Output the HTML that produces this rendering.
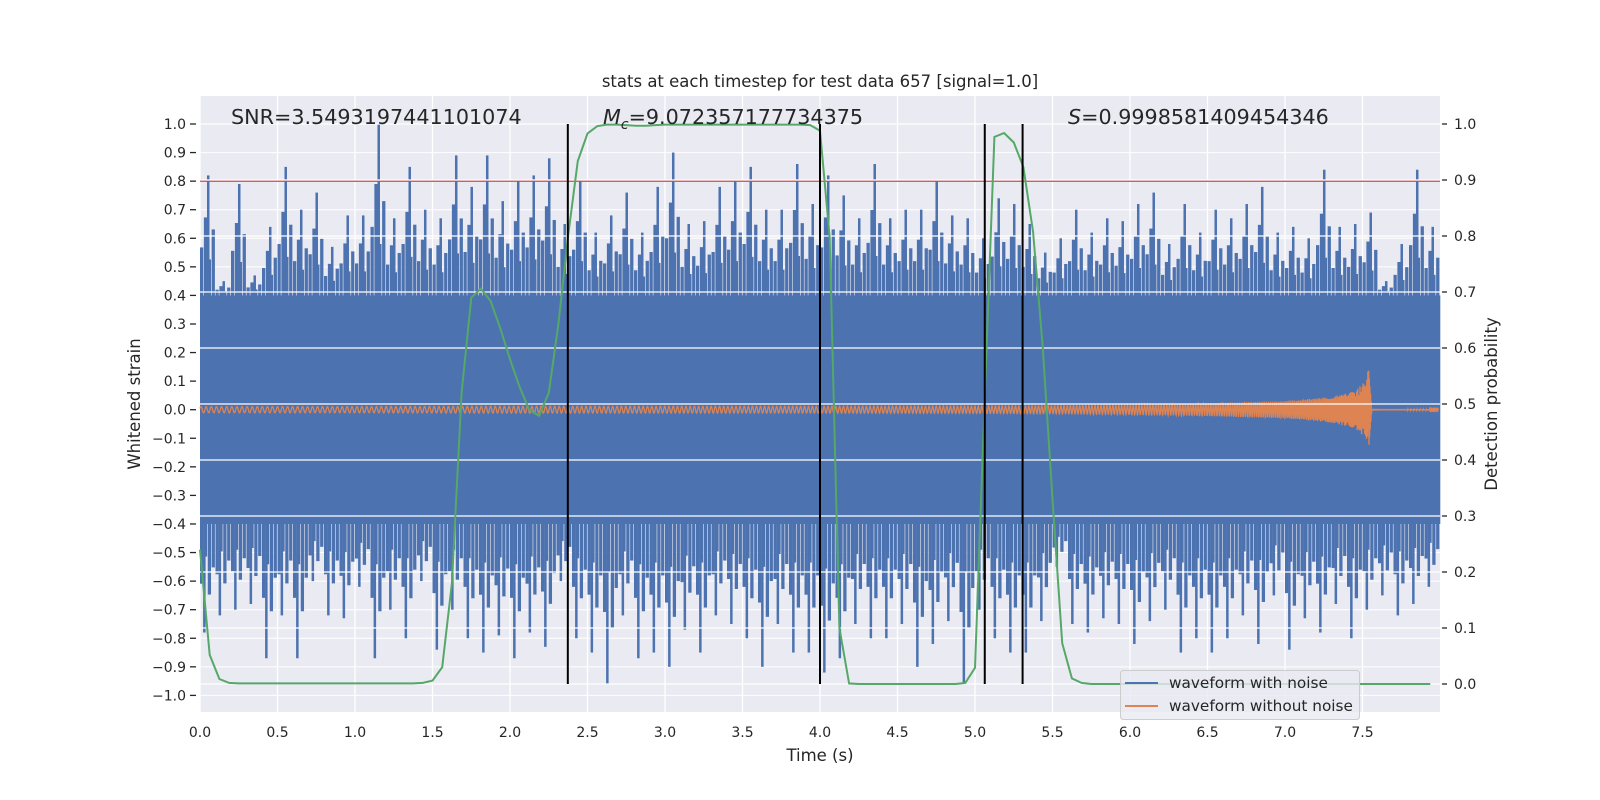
<!DOCTYPE html>
<html><head><meta charset="utf-8">
<style>
html,body{margin:0;padding:0;background:#fff;}
svg{display:block;font-family:"DejaVu Sans","Liberation Sans",sans-serif;}
</style></head>
<body>
<svg id="chart" width="1600" height="800" viewBox="0 0 1600 800" xmlns="http://www.w3.org/2000/svg">
<rect x="0" y="0" width="1600" height="800" fill="#ffffff"/>
<rect x="200" y="96" width="1240" height="616" fill="#EAEAF2"/>
<g id="gridLeft"></g>
<g id="blue"></g>
<g id="orange"></g>
<g id="red"></g>
<g id="gridRight"></g>
<g id="green"></g>
<g id="vlines"></g>
<g id="axes"></g>
<text x="820" y="87" text-anchor="middle" font-size="16.5" fill="#262626">stats at each timestep for test data 657 [signal=1.0]</text>
<text x="231" y="124" font-size="20.7" fill="#262626">SNR=3.5493197441101074</text>
<text x="603" y="124" font-size="20.7" fill="#262626"><tspan font-style="italic">M</tspan><tspan font-style="italic" font-size="14" dy="5">c</tspan><tspan dy="-5">=9.072357177734375</tspan></text>
<text x="1068" y="124" font-size="20.7" fill="#262626"><tspan font-style="italic">S</tspan>=0.9998581409454346</text>
<text x="820" y="761" text-anchor="middle" font-size="16.5" fill="#262626">Time (s)</text>
<text transform="translate(140,404) rotate(-90)" text-anchor="middle" font-size="16.5" fill="#262626">Whitened strain</text>
<text transform="translate(1497,404) rotate(-90)" text-anchor="middle" font-size="16.5" fill="#262626">Detection probability</text>
<g>
<rect x="1120.5" y="670.5" width="239" height="49" rx="3" fill="#EAEAF2" fill-opacity="0.8" stroke="#cccccc"/>
<line x1="1125" y1="683" x2="1158" y2="683" stroke="#4C72B0" stroke-width="2"/>
<text x="1169" y="688" font-size="15.3" fill="#262626">waveform with noise</text>
<line x1="1125" y1="706" x2="1158" y2="706" stroke="#DD8452" stroke-width="2"/>
<text x="1169" y="711" font-size="15.3" fill="#262626">waveform without noise</text>
</g>
</svg>
<script>
const NS="http://www.w3.org/2000/svg";
// ---- data ----
const binWidth=0.1;
const noiseUpper=[0.82,0.45,0.79,0.47,0.64,0.85,0.70,0.76,0.57,0.68,0.68,1.0,0.67,0.85,0.70,0.67,0.89,0.78,0.89,0.73,0.80,0.82,0.88,0.65,0.80,0.62,0.68,0.76,0.62,0.78,0.90,0.65,0.66,0.78,0.80,0.85,0.70,0.70,0.86,0.72,0.82,0.75,0.67,0.86,0.67,0.70,0.70,0.80,0.68,0.67,0.60,0.74,0.72,0.65,0.55,0.60,0.70,0.62,0.67,0.66,0.72,0.76,0.58,0.72,0.62,0.70,0.67,0.72,0.78,0.62,0.64,0.60,0.84,0.64,0.65,0.69,0.45,0.58,0.84,0.64];
const noiseLower=[-0.78,-0.72,-0.70,-0.68,-0.87,-0.72,-0.87,-0.60,-0.72,-0.73,-0.62,-0.87,-0.70,-0.80,-0.60,-0.84,-0.70,-0.80,-0.85,-0.79,-0.87,-0.78,-0.83,-0.60,-0.80,-0.85,-0.96,-0.72,-0.87,-0.85,-0.90,-0.77,-0.85,-0.72,-0.75,-0.80,-0.90,-0.75,-0.85,-0.85,-0.92,-0.87,-0.75,-0.80,-0.80,-0.75,-0.90,-0.82,-0.74,-0.96,-0.70,-0.80,-0.85,-0.85,-0.74,-0.55,-0.75,-0.78,-0.73,-0.75,-0.82,-0.74,-0.70,-0.85,-0.80,-0.85,-0.80,-0.72,-0.82,-0.65,-0.84,-0.73,-0.78,-0.68,-0.80,-0.70,-0.65,-0.72,-0.68,-0.62];
const coreUpper=0.40, coreLower=-0.40;
const chirpTimes=[0,1,2,3,4,5,5.5,6,6.5,7,7.3,7.45,7.52,7.54,7.56,7.99];
const chirpAmp=[0.011,0.011,0.012,0.012,0.012,0.013,0.014,0.017,0.022,0.03,0.045,0.065,0.10,0.15,0.003,0.002];
const probStep=0.0625;
const probValues=[
0.24,0.052,0.009,0.002,
0.001,0.001,0.001,0.001,0.001,0.001,0.001,0.001,0.001,0.001,0.001,0.001,0.001,0.001,0.001,0.001,0.001,0.001,0.001,
0.002,0.006,0.03,0.18,0.52,0.69,0.706,0.684,0.635,0.58,0.53,0.489,0.479,0.52,0.643,0.80,0.934,0.983,0.996,0.999,
0.999,0.998,0.997,0.997,0.998,0.999,0.999,0.999,0.999,0.999,0.999,0.999,0.999,0.999,0.999,0.999,0.999,0.999,0.999,0.999,
0.998,0.988,0.797,0.10,0.001,
0,0,0,0,0,0,0,0,0,0,0,
0.002,0.029,0.51,0.977,0.984,0.967,0.923,0.807,0.6,0.33,0.073,0.01,0.002,
0,0,0,0,0,0,0,0,0,0,0,0,0,0,0,0,0,0,0,0,0,0,0,0,0,0,0,0,0,0,0,0,0,0,0,0];
const thresholdValue=0.8;
const eventTimes=[2.373,4.0,5.063,5.307];
const xTicks=[0,0.5,1,1.5,2,2.5,3,3.5,4,4.5,5,5.5,6,6.5,7,7.5];
const yTicksLeft=[1.0,0.9,0.8,0.7,0.6,0.5,0.4,0.3,0.2,0.1,0.0,-0.1,-0.2,-0.3,-0.4,-0.5,-0.6,-0.7,-0.8,-0.9,-1.0];
const yTicksRight=[0.0,0.1,0.2,0.3,0.4,0.5,0.6,0.7,0.8,0.9,1.0];
// ---- scales ----
const X=t=>200+t*155;
const YL=v=>96+(1.098-v)*285.7;
const YR=p=>684-560*p;
function mk(tag,attrs,parent){const e=document.createElementNS(NS,tag);for(const k in attrs)e.setAttribute(k,attrs[k]);parent.appendChild(e);return e;}
const gL=document.getElementById('gridLeft');
yTicksLeft.forEach(v=>{const l=mk('line',{x1:200,x2:1440,y1:YL(v),y2:YL(v),stroke:'#ffffff','stroke-width':1},gL);

});
xTicks.forEach(t=>{const l=mk('line',{x1:X(t),x2:X(t),y1:96,y2:712,stroke:'#ffffff','stroke-width':1.3},gL);

});
// blue noise
const gB=document.getElementById('blue');
const bw=155*binWidth;
const fracs=[0.4,0.65,0.3,0.55];
noiseUpper.forEach((u,i)=>{
 const lo=noiseLower[i];const x0=X(i*binWidth);
 const r=mk('rect',{x:x0,y:YL(coreUpper),width:bw+0.3,height:YL(coreLower)-YL(coreUpper),fill:'#4C72B0'},gB);
 
 
 fracs.forEach((f,j)=>{
  const hu=coreUpper+f*(u-coreUpper);
  const a=mk('rect',{x:x0+j*bw/4,y:YL(hu),width:bw/4-0.6,height:YL(coreUpper)-YL(hu)+1,fill:'#4C72B0'},gB);
  
  
  const hl=coreLower+fracs[3-j]*(lo-coreLower);
  const b=mk('rect',{x:x0+j*bw/4,y:YL(coreLower)-1,width:bw/4-0.6,height:YL(hl)-YL(coreLower)+1,fill:'#4C72B0'},gB);
  
  
 });
 const s=mk('rect',{x:x0+bw*0.45,y:YL(u),width:2.5,height:YL(coreUpper)-YL(u),fill:'#4C72B0'},gB);
 
 
 const d=mk('rect',{x:x0+bw*0.2,y:YL(coreLower),width:2.5,height:YL(lo)-YL(coreLower),fill:'#4C72B0'},gB);
 
 
});
// orange chirp
function amp(t){for(let i=0;i<chirpTimes.length-1;i++){if(t<=chirpTimes[i+1]){const f=(t-chirpTimes[i])/(chirpTimes[i+1]-chirpTimes[i]);return chirpAmp[i]+f*(chirpAmp[i+1]-chirpAmp[i]);}}return chirpAmp[chirpAmp.length-1];}
let pts=[];let ph=0;const dt=0.002;
for(let t=0;t<=7.99;t+=dt){const fr=t<7.54?30/Math.pow(1-t/7.6,0.375):250;ph+=2*Math.PI*fr*dt;pts.push(X(t).toFixed(1)+','+YL(amp(t)*Math.sin(ph)).toFixed(1));}
const oP=mk('polyline',{points:pts.join(' '),fill:'none',stroke:'#DD8452','stroke-width':1.3},document.getElementById('orange'));


// red threshold
const rl=mk('line',{x1:200,x2:1440,y1:YL(thresholdValue),y2:YL(thresholdValue),stroke:'#C44E52','stroke-width':1.5},document.getElementById('red'));


// right grid
const gR=document.getElementById('gridRight');
yTicksRight.forEach(p=>{const l=mk('line',{x1:200,x2:1440,y1:YR(p),y2:YR(p),stroke:'#ffffff','stroke-width':1.3},gR);

});
// green
const gp=probValues.map((p,i)=>X(i*probStep).toFixed(1)+','+YR(p).toFixed(1)).join(' ');
const gl=mk('polyline',{points:gp,fill:'none',stroke:'#55A868','stroke-width':2},document.getElementById('green'));


// vlines
const gV=document.getElementById('vlines');
eventTimes.forEach(t=>{const l=mk('line',{x1:X(t),x2:X(t),y1:YR(1),y2:YR(0),stroke:'#000000','stroke-width':2},gV);

});
// axes ticks
const gA=document.getElementById('axes');
xTicks.forEach(t=>{const tx=mk('text',{x:X(t),y:737,'text-anchor':'middle','font-size':14,fill:'#262626'},gA);tx.textContent=t.toFixed(1);

});
yTicksLeft.forEach(v=>{const y=YL(v);
const tk=mk('line',{x1:190,x2:196,y1:y,y2:y,stroke:'#262626','stroke-width':1.3},gA);


const tx=mk('text',{x:186,y:y+5,'text-anchor':'end','font-size':14,fill:'#262626'},gA);tx.textContent=(v<0?'\u2212':'')+Math.abs(v).toFixed(1);

});
yTicksRight.forEach(p=>{const y=YR(p);
const tk=mk('line',{x1:1442,x2:1447,y1:y,y2:y,stroke:'#262626','stroke-width':1.3},gA);


const tx=mk('text',{x:1454,y:y+5,'font-size':14,fill:'#262626'},gA);tx.textContent=p.toFixed(1);

});
</script>
</body></html>
